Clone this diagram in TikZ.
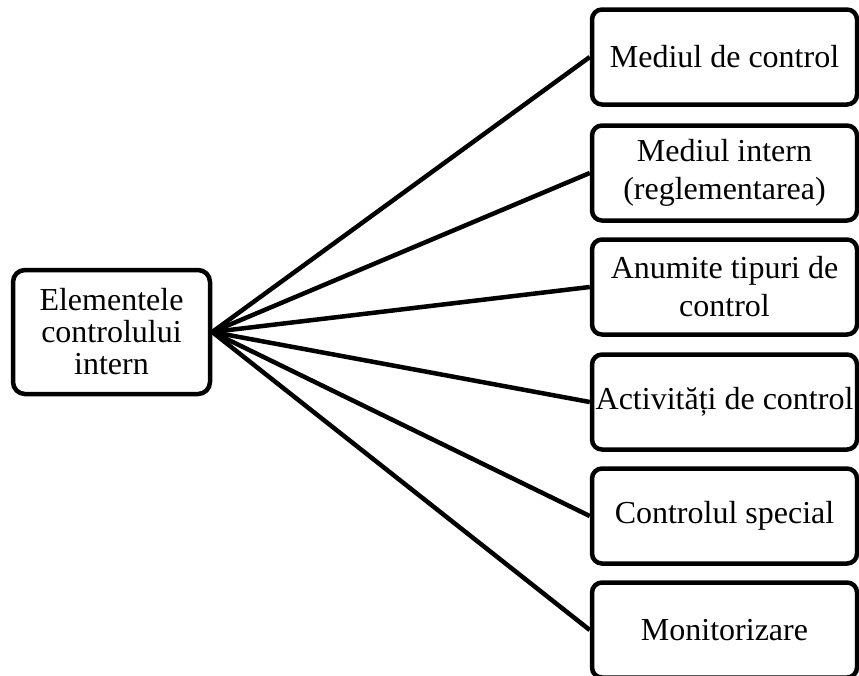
\documentclass[tikz,border=0pt]{standalone}
\usepackage{fontspec}
\setmainfont{Liberation Serif}
\begin{document}
\begin{tikzpicture}[x=1pt,y=-1pt,
  every node/.style={font=\fontsize{32}{38}\selectfont},
  itembox/.style={draw=black, line width=4.5pt, rounded corners=10pt, fill=white,
    minimum width=265pt, minimum height=95pt, inner sep=0pt, align=center},
  rootbox/.style={draw=black, line width=4.5pt, rounded corners=12pt, fill=white,
    minimum width=197pt, minimum height=124pt, inner sep=0pt, align=center,
    font=\fontsize{32}{32}\selectfont},
  link/.style={draw=black, line width=4.5pt}]
\useasboundingbox (0,0) rectangle (859,675);
\clip (0,0) rectangle (859,675);

% root of the fan
\node[rootbox] (root) at (111.5,332) {Elementele\\controlului\\intern};

% the six elements
\node[itembox] (b1) at (724.5,57)  {Mediul de control};
\node[itembox] (b2) at (724.5,173) {Mediul intern\\(reglementarea)};
\node[itembox] (b3) at (724.5,287) {Anumite tipuri de\\control};
\node[itembox] (b4) at (724.5,402) {\hspace*{-6pt}Activități de control\hspace*{-6pt}};
\node[itembox] (b5) at (724.5,516) {Controlul special};
\node[itembox] (b6) at (724.5,630) {Monitorizare};

% connectors from the root to each element
\foreach \b in {b1,b2,b3,b4,b5,b6}
  \draw[link] (root.east) -- (\b.west);
\end{tikzpicture}
\end{document}
